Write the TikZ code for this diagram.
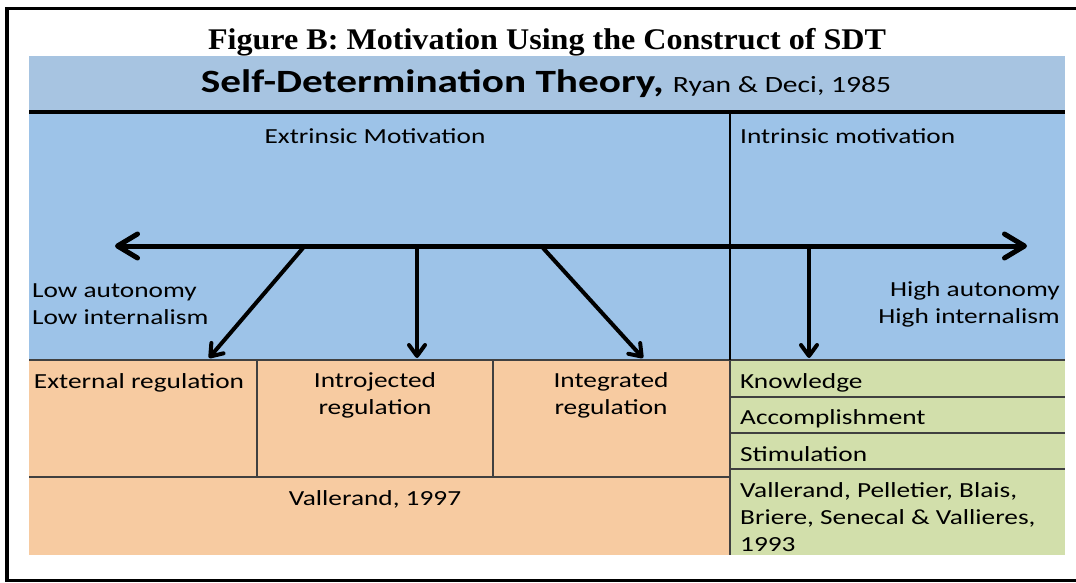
\documentclass[tikz,border=0pt]{standalone}
\usepackage{fontspec}
\setmainfont[FakeStretch=1.27]{Carlito}
\newfontfamily\timesfont[FakeStretch=1.07]{Liberation Serif}
\usetikzlibrary{arrows.meta}
\usetikzlibrary{positioning}

\definecolor{headblue}{HTML}{A7C4E1}
\definecolor{mainblue}{HTML}{9DC3E8}
\definecolor{peach}{HTML}{F7CBA1}
\definecolor{sage}{HTML}{D2DFAB}
\definecolor{rulegray}{HTML}{404040}

\begin{document}
\begin{tikzpicture}[x=1pt,y=-1pt,
	axis arrow/.style={line width=5pt,{Straight Barb[length=20pt,width=24pt,line width=5pt,round]}-{Straight Barb[length=20pt,width=24pt,line width=5pt,round]}},
	down arrow/.style={line width=4pt,-{Straight Barb[length=11pt,width=16pt,line width=4pt,round]}},
	main text/.style={font=\fontsize{21.5}{27}\selectfont,inner sep=0pt,anchor=base},
	cell line/.style={draw=rulegray,line width=1.5pt}]
	
	\useasboundingbox (0,0) rectangle (1076,583);
	
	% panels
	\fill[headblue] (29,56) rectangle (1065,112);
	\fill[mainblue] (29,112) rectangle (1065,360);
	\fill[peach] (29,360) rectangle (730,555);
	\fill[sage] (730,360) rectangle (1065,555);
	
	\draw[cell line] (29,360) -- (1065,360);
	\draw[cell line] (29,477) -- (730,477);
	\draw[cell line] (257,360) -- (257,477);
	\draw[cell line] (493,360) -- (493,477);
	\foreach \y in {397,433,469}
		\draw[cell line] (730,\y) -- (1065,\y);
	\draw[line width=2.2pt] (730,112) -- (730,360);
	\draw[line width=1.8pt,rulegray] (730,360) -- (730,555);
	\draw[line width=4pt] (29,112) -- (1065,112);
	
	% frame
	\draw[line width=3.5pt] (1078,8.5) -- (7,8.5) -- (7,580.5) -- (1078,580.5);
	
	% titles
	\node[inner sep=0pt,anchor=base,font=\timesfont\bfseries\fontsize{30}{36}\selectfont] (title) at (547,50) {Figure B: Motivation Using the Construct of SDT};
	\node[inner sep=0pt,anchor=base,font=\bfseries\fontsize{32.5}{39}\selectfont] (sdt) at (546,93) {Self-Determination Theory, {\mdseries\fontsize{23.3}{28}\selectfont Ryan \& Deci, 1985}};
	
	\node[main text] (extr) at (375,144) {Extrinsic Motivation};
	\node[main text,anchor=base west] (intr) at (740,143) {Intrinsic motivation};
	\node[main text,anchor=base west,align=left] (low) at (32,324) {Low autonomy\\Low internalism};
	\node[main text,anchor=base east,align=right] (high) at (1060,323) {High autonomy\\High internalism};
	
	% axis and arrows
	\coordinate (axl) at (115,246);
	\coordinate (axr) at (1027,246);
	\draw[axis arrow] (axl) -- (axr);
	
	\coordinate (s1) at (303,248);
	\coordinate (s2) at (417,248);
	\coordinate (s3) at (543,248);
	\coordinate (s4) at (809,248);
	\coordinate (t1) at (209,358);
	\coordinate (t2) at (417,358);
	\coordinate (t3) at (643,358);
	\coordinate (t4) at (809,358);
	\foreach \i in {1,...,4}
		\draw[down arrow] (s\i) -- (t\i);
	
	% cells
	\node[main text] (ext) at (139,388) {External regulation};
	\node[main text,align=center] (intro) at (375,414) {Introjected\\regulation};
	\node[main text,align=center] (integ) at (611,414) {Integrated\\regulation};
	\node[main text] (vall) at (375,505) {Vallerand, 1997};
	
	\node[main text,anchor=base west] (know) at (740,388) {Knowledge};
	\node[main text,anchor=base west] (accomp) at (740,424) {Accomplishment};
	\node[main text,anchor=base west] (stim) at (740,461) {Stimulation};
	\node[main text,anchor=base west,align=left] (vallb) at (740,551) {Vallerand, Pelletier, Blais,\\Briere, Senecal \& Vallieres,\\1993};
	
\end{tikzpicture}
\end{document}
